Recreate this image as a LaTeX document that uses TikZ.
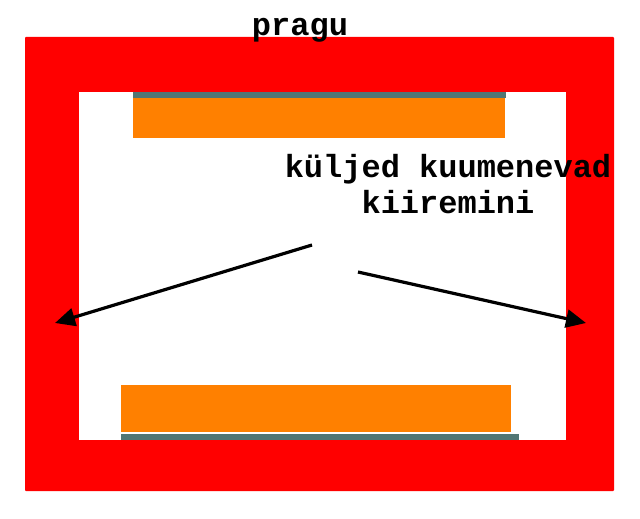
\documentclass[tikz,border=0pt]{standalone}
\usepackage{fontspec}
\setmonofont{Liberation Mono}
\usetikzlibrary{arrows.meta}
\definecolor{wallred}{RGB}{255,0,0}
\definecolor{heatorange}{RGB}{255,128,0}
\definecolor{plategray}{RGB}{82,118,116}
\begin{document}
\begin{tikzpicture}[x=1pt,y=-1pt,
  lbl/.style={font=\ttfamily\bfseries\fontsize{32}{36}\selectfont, inner sep=0pt, align=center},
  arr/.style={line width=3.2pt, -{Triangle[length=20pt,width=18pt]}}]
\useasboundingbox (0,0) rectangle (640,519);
% outer red frame
\fill[wallred, rounded corners=1pt] (25,37) rectangle (614,491);
\fill[white] (79,92) rectangle (566,440);
% top heater
\fill[plategray] (133,92) rectangle (506,98);
\fill[heatorange] (133,98) rectangle (505,138);
% bottom heater
\fill[heatorange] (121,385) rectangle (511,432);
\fill[plategray] (121,434) rectangle (519,440);
% labels
\node[lbl, anchor=base] (pragu) at (300,36) {pragu};
\node[lbl, anchor=base] (kul) at (448,213) {küljed kuumenevad\\kiiremini};
% arrows
\coordinate (ls) at (312,245);
\coordinate (le) at (55,323);
\coordinate (rs) at (358,272);
\coordinate (re) at (586,323);
\draw[arr] (ls) -- (le);
\draw[arr] (rs) -- (re);
\end{tikzpicture}
\end{document}
